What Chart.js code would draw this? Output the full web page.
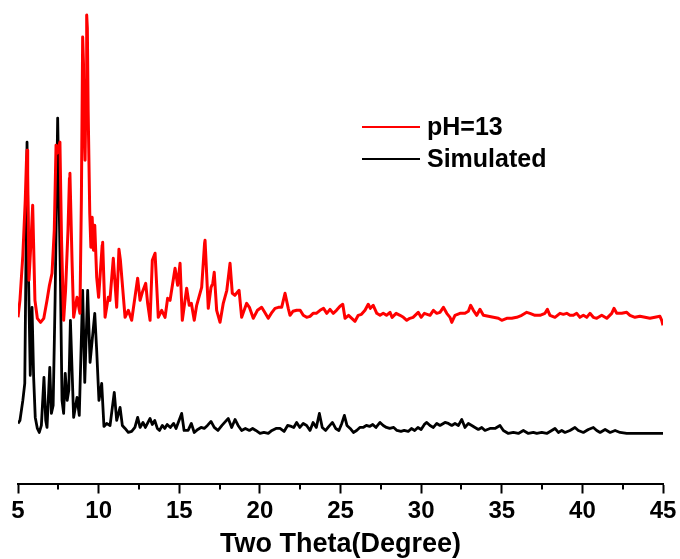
<!DOCTYPE html>
<html>
<head>
<meta charset="utf-8">
<script src="https://cdn.jsdelivr.net/npm/chart.js@4.4.0/dist/chart.umd.min.js"></script>
<style>
  html, body { margin: 0; padding: 0; background: #fff; }
  #wrap { width: 680px; height: 559px; position: relative; }
</style>
</head>
<body>
<div id="wrap"><canvas id="xrdChart"></canvas></div>
<script>
// 2theta (degree) / intensity (a.u.)
const redTheta = [5.00, 5.12, 5.30, 5.45, 5.53, 5.56, 5.60, 5.68, 5.80, 5.91, 6.05, 6.20, 6.40, 6.60, 6.80, 6.95, 7.11, 7.25, 7.36, 7.43, 7.50, 7.60, 7.70, 7.83,
    7.95, 8.10, 8.19, 8.22, 8.35, 8.45, 8.66, 8.84, 8.93, 9.01, 9.06, 9.10, 9.16, 9.22, 9.26, 9.30, 9.35, 9.45, 9.52, 9.60, 9.68, 9.76, 9.88,
    10.00, 10.22, 10.25, 10.40, 10.60, 10.70, 10.91, 11.12, 11.26, 11.35, 11.64, 11.84, 12.05, 12.42, 12.57, 12.71, 12.92, 13.04, 13.19, 13.33, 13.50,
    13.70, 13.91, 14.12, 14.28, 14.43, 14.74, 14.90, 15.05, 15.19, 15.46, 15.62, 15.75, 15.93, 16.08, 16.39, 16.57, 16.60, 16.80, 16.97, 17.08, 17.17,
    17.32, 17.53, 17.73, 17.95, 18.15, 18.29, 18.45, 18.71, 18.87, 19.18, 19.35, 19.59, 19.85, 20.11, 20.30, 20.52, 20.75, 20.94, 21.15, 21.35,
    21.56, 21.76, 21.87, 22.05, 22.28, 22.50, 22.69, 22.90, 23.11, 23.30, 23.50, 23.73, 23.95, 24.15, 24.35, 24.55, 24.75, 24.97, 25.14, 25.28,
    25.50, 25.70, 25.90, 26.10, 26.30, 26.52, 26.72, 26.85, 27.03, 27.25, 27.45, 27.65, 27.85, 28.07, 28.20, 28.45, 28.69, 28.90, 29.11, 29.30,
    29.50, 29.82, 30.00, 30.20, 30.55, 30.76, 30.97, 31.17, 31.38, 31.59, 31.79, 31.90, 32.10, 32.41, 32.72, 32.93, 33.07, 33.24, 33.45, 33.65,
    33.86, 34.17, 34.48, 34.79, 35.00, 35.31, 35.62, 35.93, 36.24, 36.55, 36.75, 37.06, 37.37, 37.68, 37.83, 37.99, 38.30, 38.61, 38.82, 39.03,
    39.23, 39.44, 39.65, 39.85, 40.06, 40.27, 40.47, 40.68, 40.89, 41.20, 41.51, 41.82, 41.96, 42.13, 42.44, 42.75, 42.95, 43.26, 43.57, 43.88,
    44.19, 44.50, 44.81, 44.92, 45.00];
const redCounts = [166, 183, 228, 283, 325, 333, 310, 203, 240, 278, 183, 165, 161, 165, 183, 198, 210, 253, 338, 330, 335, 341, 243, 163,
    193, 253, 305, 310, 223, 166, 186, 170, 283, 446, 420, 363, 323, 403, 468, 455, 373, 270, 236, 266, 233, 258, 206,
    186, 238, 241, 166, 186, 183, 225, 176, 234, 223, 166, 173, 163, 205, 183, 191, 200, 180, 163, 223, 230,
    166, 173, 166, 185, 183, 215, 198, 220, 163, 195, 178, 180, 163, 178, 196, 240, 243, 175, 196, 200, 211,
    173, 161, 180, 193, 220, 190, 188, 193, 166, 180, 176, 165, 173, 176, 171, 165, 171, 175, 176, 176,
    190, 175, 168, 172, 173, 173, 168, 166, 167, 170, 170, 173, 175, 170, 174, 170, 173, 177, 179, 165,
    168, 165, 162, 168, 169, 173, 179, 175, 178, 170, 168, 170, 168, 171, 166, 170, 168, 166, 163, 165,
    166, 171, 166, 170, 168, 173, 170, 171, 176, 170, 166, 161, 168, 170, 170, 172, 178, 173, 168, 174,
    168, 167, 166, 165, 163, 165, 165, 166, 168, 171, 170, 168, 168, 170, 174, 168, 166, 170, 169, 170,
    168, 168, 170, 166, 168, 166, 170, 166, 165, 168, 165, 170, 175, 170, 170, 171, 168, 166, 167, 166,
    165, 166, 167, 163, 158];

const blackTheta = [5.00, 5.12, 5.30, 5.42, 5.50, 5.56, 5.66, 5.76, 5.87, 5.97, 6.07, 6.20, 6.32, 6.45, 6.61, 6.72, 6.80, 6.97, 7.07, 7.18,
    7.30, 7.46, 7.62, 7.73, 7.83, 7.93, 8.05, 8.15, 8.25, 8.45, 8.66, 8.80, 9.01, 9.14, 9.32, 9.47, 9.60, 9.76, 9.88, 10.02,
    10.19, 10.33, 10.50, 10.71, 10.97, 11.12, 11.33, 11.47, 11.64, 11.84, 12.05, 12.25, 12.42, 12.57, 12.75, 12.90, 13.19, 13.33, 13.48, 13.64,
    13.78, 13.95, 14.10, 14.25, 14.45, 14.65, 14.80, 15.15, 15.30, 15.55, 15.75, 15.93, 16.15, 16.35, 16.55, 16.75, 16.97, 17.17, 17.40, 17.65,
    18.04, 18.25, 18.46, 18.65, 18.87, 19.10, 19.35, 19.55, 19.75, 20.01, 20.25, 20.52, 20.75, 21.00, 21.25, 21.50, 21.72, 21.95, 22.10, 22.28,
    22.48, 22.69, 22.90, 23.11, 23.30, 23.50, 23.69, 23.87, 24.08, 24.28, 24.50, 24.70, 24.90, 25.08, 25.24, 25.40, 25.60, 25.80, 26.00, 26.20,
    26.40, 26.60, 26.80, 27.00, 27.20, 27.45, 27.65, 27.85, 28.05, 28.30, 28.50, 28.75, 28.95, 29.20, 29.40, 29.60, 29.80, 30.00, 30.20, 30.35,
    30.55, 30.76, 30.97, 31.17, 31.48, 31.69, 31.90, 32.10, 32.31, 32.52, 32.72, 32.93, 33.14, 33.34, 33.55, 33.76, 33.96, 34.27, 34.58, 34.89,
    35.10, 35.41, 35.72, 36.03, 36.34, 36.65, 36.96, 37.17, 37.48, 37.79, 38.10, 38.30, 38.51, 38.72, 38.92, 39.23, 39.54, 39.75, 40.06, 40.37,
    40.68, 40.89, 41.10, 41.41, 41.72, 42.03, 42.34, 42.75, 43.16, 43.47, 43.78, 44.19, 44.60, 45.00];
const blackCounts = [60, 63, 83, 100, 233, 341, 200, 108, 176, 106, 66, 55, 51, 58, 106, 63, 56, 116, 70, 78,
    183, 365, 216, 83, 70, 110, 83, 93, 163, 66, 86, 68, 193, 101, 193, 121, 143, 170, 133, 83,
    100, 57, 60, 58, 91, 63, 76, 58, 55, 51, 52, 56, 66, 56, 61, 56, 65, 59, 63, 55,
    53, 58, 55, 59, 56, 60, 55, 70, 53, 53, 60, 51, 54, 56, 55, 58, 62, 56, 53, 58,
    65, 56, 64, 58, 53, 55, 53, 55, 53, 50, 51, 50, 53, 55, 55, 52, 58, 57, 56, 61,
    56, 60, 58, 53, 61, 56, 70, 56, 53, 57, 61, 55, 53, 60, 68, 58, 55, 51, 53, 56,
    56, 58, 57, 59, 56, 61, 58, 56, 55, 56, 53, 52, 53, 52, 55, 53, 56, 54, 59, 61,
    58, 56, 60, 58, 61, 60, 58, 60, 58, 64, 56, 60, 58, 56, 54, 56, 53, 55, 55, 58,
    53, 50, 51, 50, 53, 50, 51, 50, 51, 50, 53, 55, 51, 53, 51, 53, 56, 53, 51, 54,
    56, 53, 51, 54, 51, 53, 51, 50, 50, 50, 50, 50, 50, 50];

const seriesNames = ['pH=13', 'Simulated'];
const seriesColors = ['#ff0000', '#000000'];
const xTicks = [5, 10, 15, 20, 25, 30, 35, 40, 45];

const toPoints = (xs, ys) => xs.map((x, i) => ({ x: x, y: ys[i] }));

const fontFamily = "'Liberation Sans', Arial, sans-serif";

// small ticks half way between labelled ones
const minorTicks = {
    id: 'minorTicks',
    afterDraw(chart) {
        const xs = chart.scales.x;
        const ctx = chart.ctx;
        const y0 = chart.chartArea.bottom;
        ctx.save();
        ctx.strokeStyle = '#000';
        ctx.lineWidth = 2;
        for (let i = 0; i < xTicks.length - 1; i++) {
            const px = Math.round(xs.getPixelForValue((xTicks[i] + xTicks[i + 1]) / 2));
            ctx.beginPath();
            ctx.moveTo(px, y0);
            ctx.lineTo(px, y0 + 6);
            ctx.stroke();
        }
        ctx.restore();
    }
};

// legend drawn inside the plot, line sample + label
const lineLegend = {
    id: 'lineLegend',
    afterDraw(chart) {
        const ctx = chart.ctx;
        ctx.save();
        ctx.font = 'bold 25px ' + fontFamily;
        ctx.textBaseline = 'middle';
        chart.data.datasets.forEach((ds, i) => {
            const y = 127 + i * 32;
            ctx.strokeStyle = ds.borderColor;
            ctx.lineWidth = 2;
            ctx.beginPath();
            ctx.moveTo(362, y);
            ctx.lineTo(420, y);
            ctx.stroke();
            ctx.fillStyle = '#000';
            ctx.fillText(ds.label, 427, y + 1);
        });
        ctx.restore();
    }
};

const ctx = document.getElementById('xrdChart').getContext('2d');

new Chart(ctx, {
    type: 'line',
    data: {
        datasets: [
            {
                label: seriesNames[0],
                data: toPoints(redTheta, redCounts),
                borderColor: seriesColors[0],
                borderWidth: 3,
                borderJoinStyle: 'round',
                pointRadius: 0,
                tension: 0,
                fill: false
            },
            {
                label: seriesNames[1],
                data: toPoints(blackTheta, blackCounts),
                borderColor: seriesColors[1],
                borderWidth: 2.8,
                borderJoinStyle: 'round',
                pointRadius: 0,
                tension: 0,
                fill: false
            }
        ]
    },
    options: {
        responsive: true,
        maintainAspectRatio: false,
        animation: false,
        layout: {
            padding: { left: 18, right: 17, top: 8, bottom: 0 }
        },
        plugins: {
            legend: { display: false },
            tooltip: { enabled: false }
        },
        scales: {
            x: {
                type: 'linear',
                min: 5,
                max: 45,
                afterBuildTicks: scale => {
                    scale.ticks = xTicks.map(v => ({ value: v }));
                },
                border: { display: true, color: '#000', width: 2 },
                grid: {
                    drawOnChartArea: false,
                    drawTicks: true,
                    tickLength: 10,
                    tickWidth: 2,
                    tickColor: '#000'
                },
                ticks: {
                    color: '#000',
                    padding: 3,
                    maxRotation: 0,
                    font: { family: fontFamily, size: 24, weight: 'bold', lineHeight: 1.2 }
                },
                title: {
                    display: true,
                    text: 'Two Theta(Degree)',
                    color: '#000',
                    padding: { top: 1, bottom: 0 },
                    font: { family: fontFamily, size: 27, weight: 'bold', lineHeight: 1.1 }
                }
            },
            y: {
                display: false,
                min: 0,
                max: 475
            }
        }
    },
    plugins: [minorTicks, lineLegend]
});
</script>
</body>
</html>
